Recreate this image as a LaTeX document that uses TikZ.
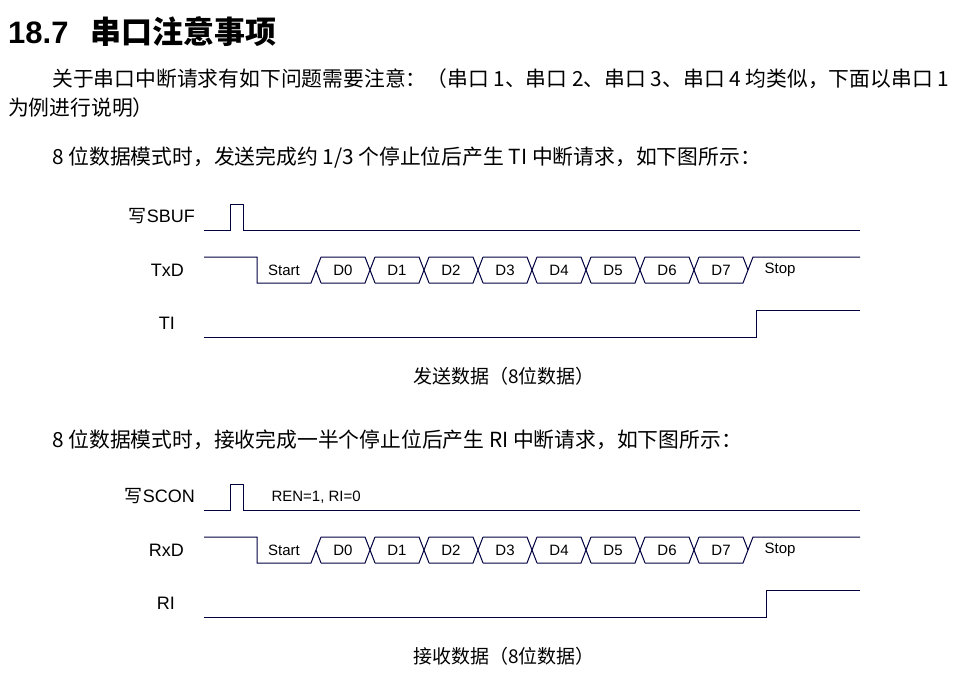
\documentclass[tikz,border=0pt]{standalone}
\usepackage{fontspec}
\setmainfont{Liberation Serif}
\newfontfamily\cjk{Noto Sans CJK SC}
\newfontfamily\arial{Liberation Sans}
\begin{document}
\begin{tikzpicture}[x=1pt,y=-1pt,
  wave/.style={draw=black!75!blue, line width=1pt},
  sig/.style={inner sep=0pt,font=\arial\fontsize{18}{18}\selectfont},
  bit/.style={font=\arial\fontsize{15}{15}\selectfont},
  body/.style={anchor=base west,font=\cjk\fontsize{20.8}{20.8}\selectfont,inner sep=0pt},
  captext/.style={anchor=base,font=\cjk\fontsize{19}{19}\selectfont,inner sep=0pt}]
\useasboundingbox (0,0) rectangle (963,679);
\node[anchor=base west,inner sep=0pt,font=\arial\bfseries\fontsize{31}{31}\selectfont] (title) at (8,44) {18.7\hspace{22pt}{\cjk\bfseries 串口注意事项}};
\node[body] (p1) at (52,87) {关于串口中断请求有如下问题需要注意：（串口 1、串口 2、串口 3、串口 4 均类似，下面以串口 1};
\node[body] (p2) at (8,116) {为例进行说明）};
\node[body] (p3) at (52,165) {8 位数据模式时，发送完成约 1/3 个停止位后产生 TI 中断请求，如下图所示：};
\node[body] (p4) at (52,447) {8 位数据模式时，接收完成一半个停止位后产生 RI 中断请求，如下图所示：};
\node[captext] (c1) at (504,383) {发送数据（8位数据）};
\node[captext] (c2) at (504,663) {接收数据（8位数据）};
\foreach \oy/\wn/\dn/\iname/\rx in {0/{\cjk 写}SBUF/TxD/TI/756, 280/{\cjk 写}SCON/RxD/RI/766}{
\begin{scope}[yshift=-\oy pt]
\node[sig,anchor=east] (w\oy) at (195,216) {\wn};
\node[sig,anchor=east] (d\oy) at (184,270) {\dn};
\node[sig,anchor=east] (i\oy) at (175,323) {\iname};
\draw[wave] (204,230) -- (230,230) -- (230,204) -- (243,204) -- (243,230) -- (860,230);
\draw[wave] (204,257) -- (257,257) -- (257,283) -- (311,283) -- (321,257);
\draw[wave] (316,270) -- (321,283);
\foreach \c in {370,424,478,532,586,640,694}{
  \draw[wave] (\c-49,257) -- (\c-5,257) -- (\c+5,283);
  \draw[wave] (\c-49,283) -- (\c-5,283) -- (\c+5,257);
}
\draw[wave] (699,257) -- (743,257) -- (748,270);
\draw[wave] (699,283) -- (743,283) -- (753,257) -- (860,257);
\draw[wave] (204,337) -- (\rx,337) -- (\rx,310) -- (860,310);
\node[bit] (st\oy) at (284,270) {Start};
\foreach \k in {0,...,7}{\node[bit] (b\oy\k) at (343+54*\k,270) {D\k};}
\node[bit] (sp\oy) at (780,270) {Stop};
\end{scope}}
\node[bit,anchor=west] (ren) at (268,497) {REN=1, RI=0};
\end{tikzpicture}
\end{document}
